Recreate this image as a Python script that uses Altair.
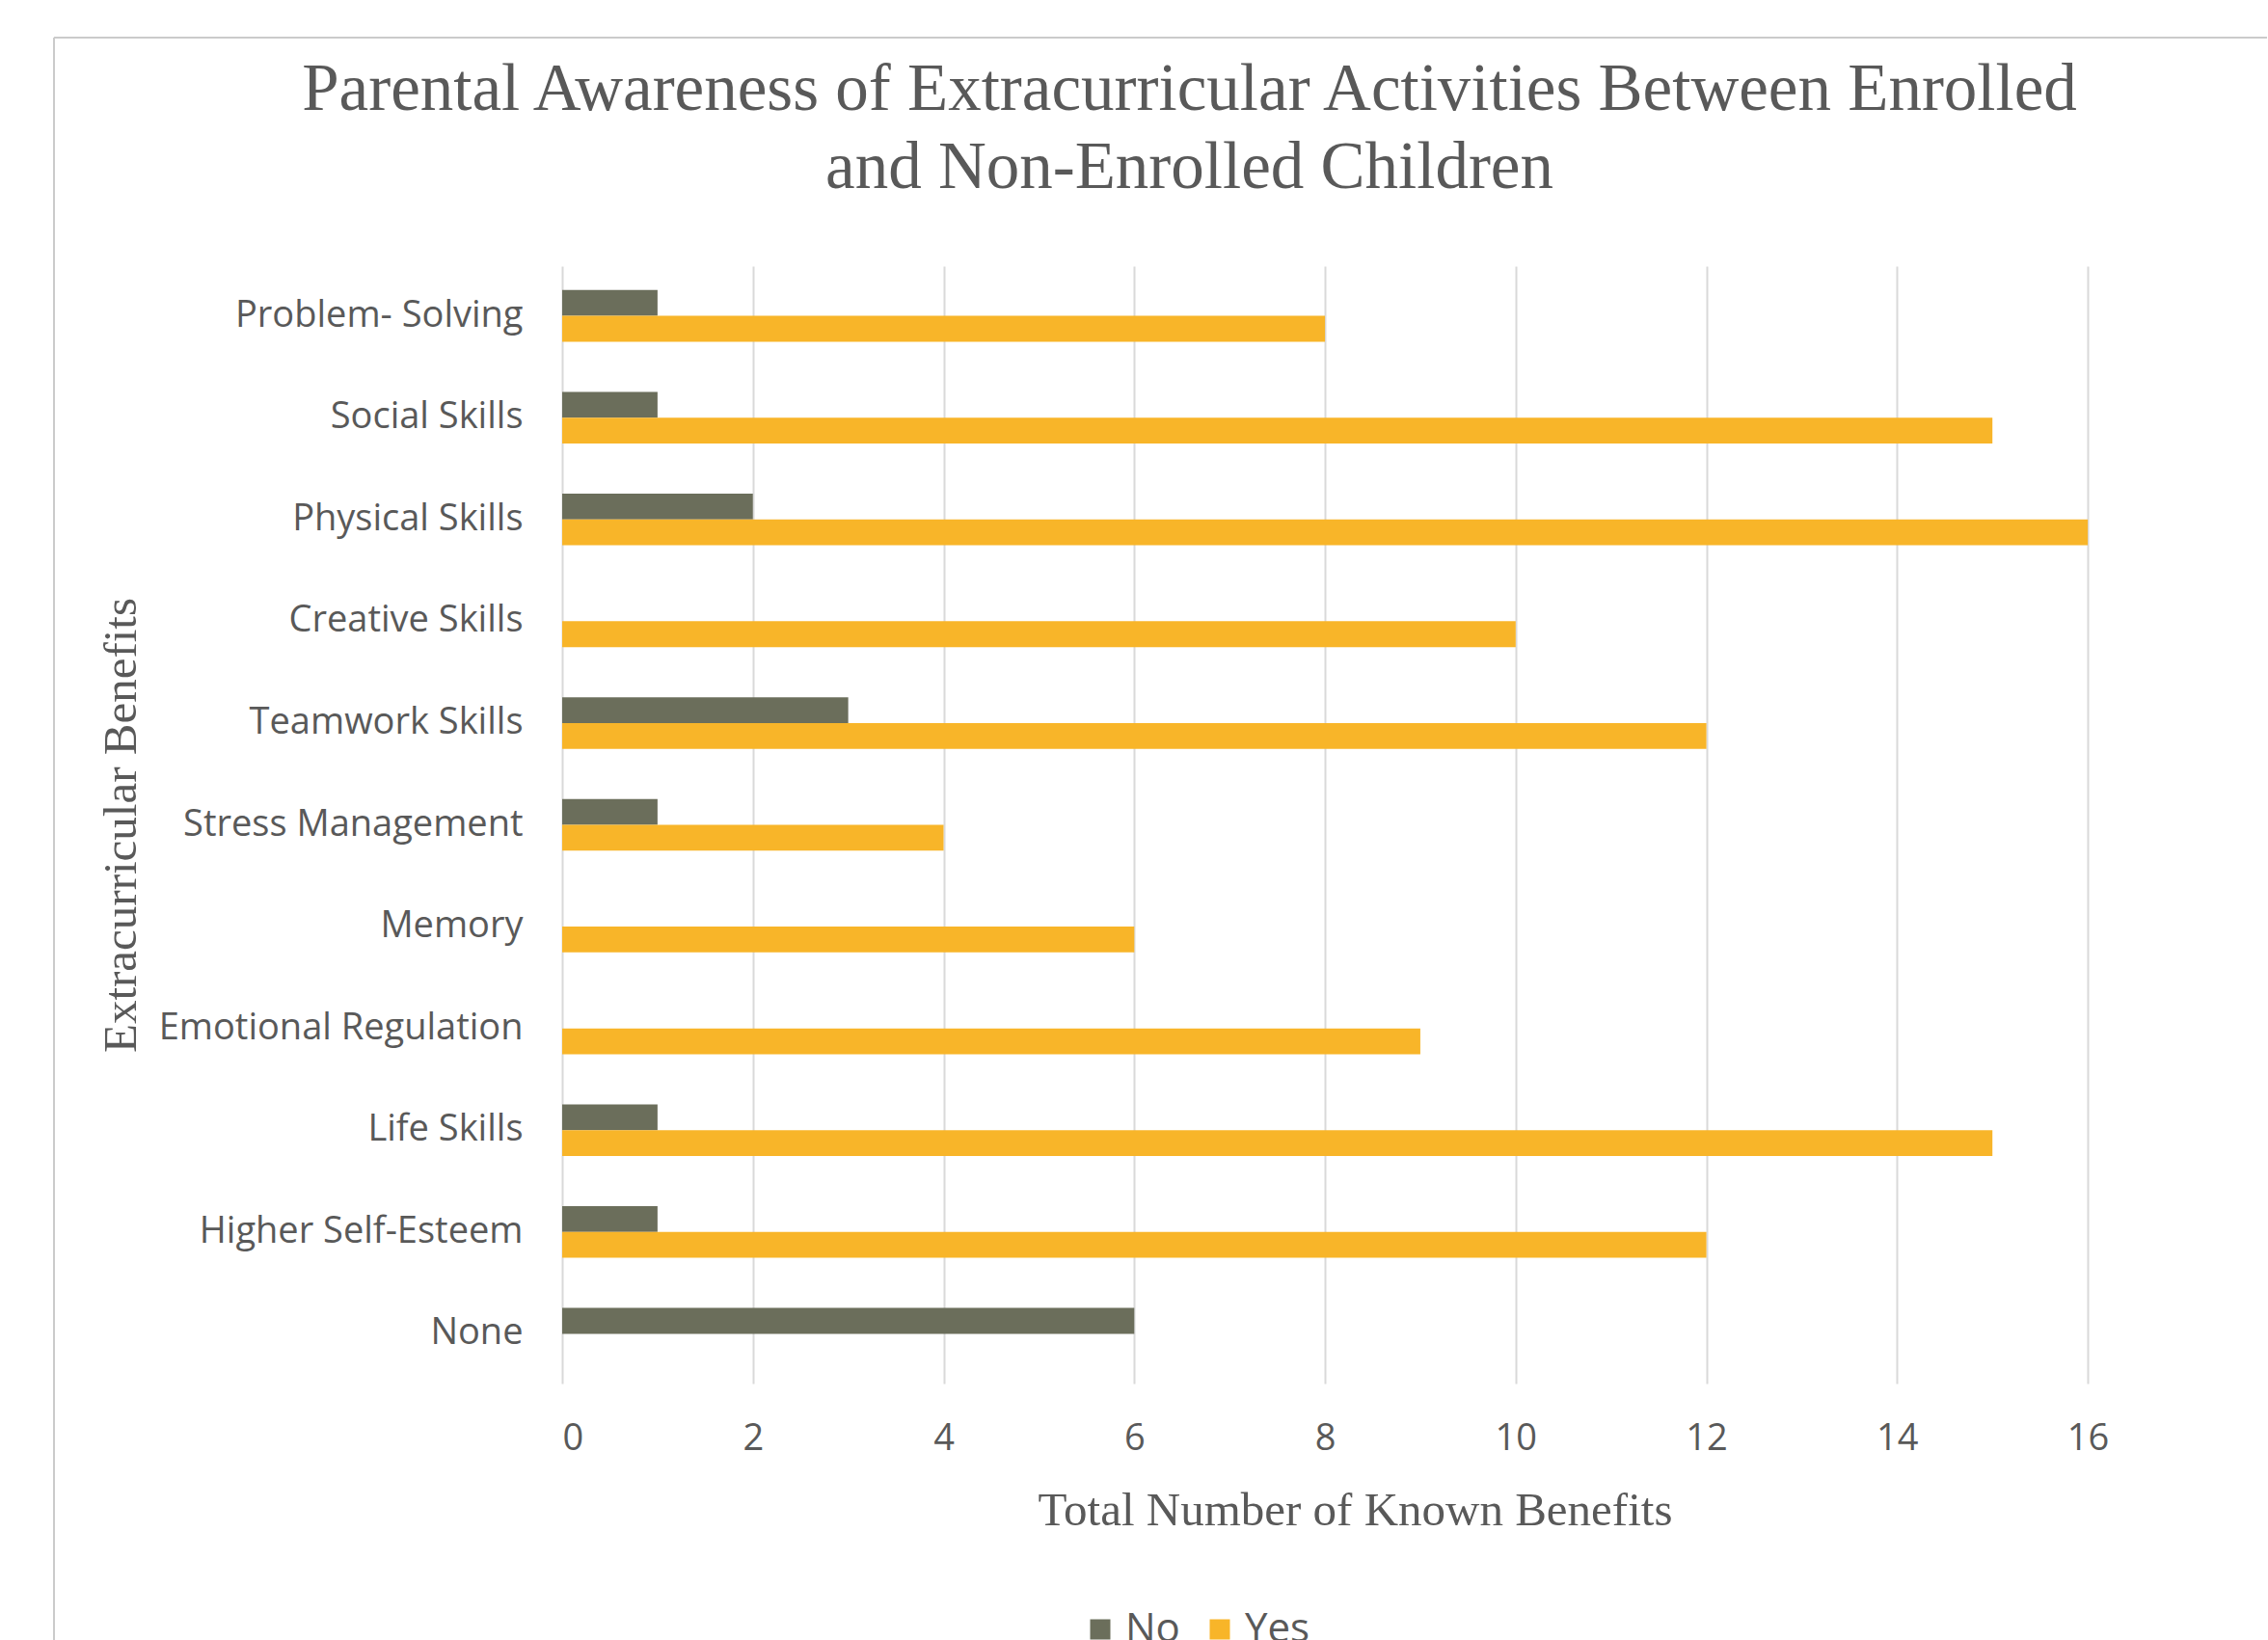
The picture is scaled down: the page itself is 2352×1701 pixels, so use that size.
import altair as alt
import pandas as pd

categories = [
    "Problem- Solving", "Social Skills", "Physical Skills", "Creative Skills",
    "Teamwork Skills", "Stress Management", "Memory", "Emotional Regulation",
    "Life Skills", "Higher Self-Esteem", "None",
]
no_values = [1, 1, 2, 0, 3, 1, 0, 0, 1, 1, 6]
yes_values = [8, 15, 16, 10, 12, 4, 6, 9, 15, 12, 0]
groups = ["No", "Yes"]
colors = ["#6b6e5b", "#f8b529"]
x_ticks = [0, 2, 4, 6, 8, 10, 12, 14, 16]
title_lines = [
    "Parental Awareness of Extracurricular Activities Between Enrolled",
    "and Non-Enrolled Children",
]
x_title = "Total Number of Known Benefits"
y_title = "Extracurricular Benefits"

rows = []
for c, n, y in zip(categories, no_values, yes_values):
    rows.append({"benefit": c, "group": "No", "count": n})
    rows.append({"benefit": c, "group": "Yes", "count": y})
df = pd.DataFrame(rows)

# the visible part of the value axis (the original is cropped just before 18)
X_MAX = 17.88
W, H = 1768, 1159
TEXT = "#595959"
SANS = "Open Sans"
SERIF = "Liberation Serif"
BORDER = "#cbcbcb"

bars = alt.Chart(df).mark_bar(cornerRadius=0).encode(
    x=alt.X(
        "count:Q",
        scale=alt.Scale(domain=[0, X_MAX], nice=False, zero=True),
        axis=alt.Axis(
            values=x_ticks, title=x_title, grid=True, gridColor="#d9d9d9",
            gridWidth=2, domain=False, ticks=False, tickSize=0, labelPadding=38,
            labelFont=SANS, labelFontSize=38, labelColor=TEXT,
            titleFont=SERIF, titleFontSize=49, titleFontWeight="normal",
            titleColor=TEXT, titleX=822, titleY=146, titleBaseline="alphabetic",
            titleAlign="center",
        ),
    ),
    y=alt.Y(
        "benefit:N",
        sort=categories,
        scale=alt.Scale(paddingInner=0.4924, paddingOuter=0.235),
        axis=alt.Axis(
            title=y_title, grid=False, domain=False, ticks=False, tickSize=0,
            labelPadding=41, labelFont=SANS, labelFontSize=38, labelColor=TEXT,
            labelLimit=800,
            titleFont=SERIF, titleFontSize=49, titleFontWeight="normal",
            titleColor=TEXT, titleX=-443, titleY=H / 2,
            titleBaseline="alphabetic", titleAlign="center", titleAngle=270,
        ),
    ),
    yOffset=alt.YOffset(
        "group:N", sort=groups, scale=alt.Scale(paddingInner=0, paddingOuter=0)
    ),
    color=alt.Color(
        "group:N",
        scale=alt.Scale(domain=groups, range=colors),
        legend=alt.Legend(
            title=None, orient="none", legendX=537, legendY=1393,
            direction="horizontal", symbolType="square", symbolSize=441,
            symbolStrokeWidth=0, labelFont=SANS, labelFontSize=42,
            labelColor=TEXT, labelOffset=5, columnPadding=20, padding=0,
            labelLimit=400,
        ),
    ),
)

frame_df = pd.DataFrame({"k": [0]})
border_top = alt.Chart(frame_df).mark_rule(
    stroke=BORDER, strokeWidth=2, clip=False
).encode(x=alt.value(-527), x2=alt.value(1768), y=alt.value(-237))
border_left = alt.Chart(frame_df).mark_rule(
    stroke=BORDER, strokeWidth=2, clip=False
).encode(x=alt.value(-527), y=alt.value(-237), y2=alt.value(1530))

chart = alt.layer(border_top, border_left, bars).properties(
    width=W,
    height=H,
    padding={"left": 55, "top": 38, "right": 0, "bottom": 0},
    title=alt.TitleParams(
        text=title_lines, font=SERIF, fontSize=69, fontWeight="normal",
        color=TEXT, lineHeight=81, anchor="middle", frame="bounds",
        offset=-240, baseline="bottom", dx=30,
    ),
).configure(background="white").configure_view(stroke="transparent", strokeWidth=0)

chart.save("out.html", embed_options={"renderer": "svg", "actions": False})
